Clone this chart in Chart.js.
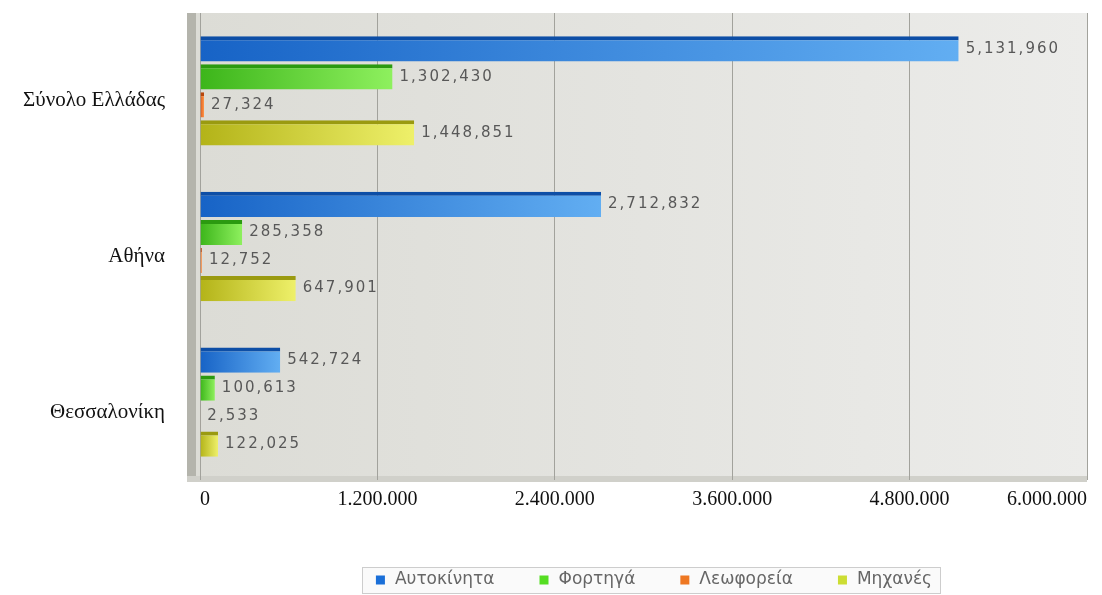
<!DOCTYPE html>
<html>
<head>
<meta charset="utf-8">
<script src="https://cdn.jsdelivr.net/npm/chart.js@4"></script>
<style>
  html, body { margin: 0; background: #fff; }
  #wrap { width: 1102px; height: 595px; }
</style>
</head>
<body>
<div id="wrap"><canvas id="chart"></canvas></div>
<script>
// Δεδομένα οχημάτων ανά περιοχή
const regions = ['Σύνολο Ελλάδας', 'Αθήνα', 'Θεσσαλονίκη'];
const seriesNames = ['Αυτοκίνητα', 'Φορτηγά', 'Λεωφορεία', 'Μηχανές'];
const cars = [5131960, 2712832, 542724];
const trucks = [1302430, 285358, 100613];
const buses = [27324, 12752, 2533];
const bikes = [1448851, 647901, 122025];
const xTicks = [0, 1200000, 2400000, 3600000, 4800000, 6000000];

// χρώματα: σκούρο, ανοιχτό, πάνω ακμή, υπόμνημα
const palette = [
  ['#1763c6', '#62aef2', '#0d4ea6', '#1a6fd8'],
  ['#3cb51a', '#8ef05e', '#2b9a10', '#55dd22'],
  ['#d9581a', '#ff9648', '#b8460c', '#ee7722'],
  ['#b3b318', '#eef06a', '#9a9a10', '#ccdd33']
];

function barFill(i) {
  return function(ctx) {
    const c = ctx.chart;
    if (!c.chartArea || !c.scales.x || ctx.raw == null) return palette[i][0];
    const x0 = c.scales.x.getPixelForValue(0);
    const x1 = Math.max(c.scales.x.getPixelForValue(ctx.raw), x0 + 1);
    const g = c.ctx.createLinearGradient(x0, 0, x1, 0);
    g.addColorStop(0, palette[i][0]);
    g.addColorStop(1, palette[i][1]);
    return g;
  };
}

const seriesData = [cars, trucks, buses, bikes];
const datasets = seriesNames.map((name, i) => ({
  label: name,
  data: seriesData[i],
  backgroundColor: barFill(i),
  borderColor: palette[i][2],
  borderWidth: { top: 4, right: 0, bottom: 0, left: 0 },
  borderSkipped: false,
  barPercentage: 0.9,
  categoryPercentage: 0.72
}));

// φόντο περιοχής σχεδίασης και αριστερός "τοίχος"
const plotBackground = {
  id: 'plotBackground',
  beforeDraw(chart) {
    const { ctx, chartArea: a } = chart;
    ctx.save();
    const g = ctx.createLinearGradient(a.left, 0, a.right, 0);
    g.addColorStop(0, '#dcdcd6');
    g.addColorStop(1, '#ececea');
    ctx.fillStyle = g;
    ctx.fillRect(a.left - 4, a.top, a.right - a.left + 4, a.bottom - a.top);
    ctx.fillStyle = '#b4b4ac';
    ctx.fillRect(a.left - 13, a.top, 9, a.bottom - a.top);
    ctx.fillStyle = '#d0d0ca';
    ctx.fillRect(a.left - 13, a.bottom - 4, a.right - a.left + 13, 6);
    ctx.restore();
  }
};

// ετικέτες τιμών δίπλα στις μπάρες
const valueLabels = {
  id: 'valueLabels',
  afterDatasetsDraw(chart) {
    const ctx = chart.ctx;
    ctx.save();
    ctx.font = '15px "DejaVu Sans"';
    ctx.letterSpacing = '2px';
    ctx.fillStyle = '#585858';
    ctx.textBaseline = 'middle';
    chart.data.datasets.forEach((ds, i) => {
      chart.getDatasetMeta(i).data.forEach((bar, j) => {
        ctx.fillText(ds.data[j].toLocaleString('en-US'), bar.x + 7, bar.y);
      });
    });
    ctx.restore();
  }
};

// υπόμνημα σε πλαίσιο κάτω από το γράφημα
const boxLegend = {
  id: 'boxLegend',
  afterDraw(chart) {
    const ctx = chart.ctx;
    const centerX = 654, centerY = 580, gap = 45;
    ctx.save();
    ctx.font = '17px "DejaVu Sans"';
    ctx.textBaseline = 'middle';
    const widths = chart.data.datasets.map(ds => 19 + ctx.measureText(ds.label).width);
    const total = widths.reduce((s, w) => s + w, 0) + gap * (widths.length - 1);
    let x = centerX - total / 2;
    ctx.fillStyle = '#fafafa';
    ctx.strokeStyle = '#cdcdcd';
    ctx.lineWidth = 1;
    ctx.fillRect(x - 14, centerY - 13, total + 22, 26);
    ctx.strokeRect(Math.round(x - 14) + 0.5, centerY - 12.5, Math.round(total + 22), 26);
    chart.data.datasets.forEach((ds, i) => {
      ctx.fillStyle = palette[i][3];
      ctx.fillRect(x, centerY - 4.5, 9, 9);
      ctx.fillStyle = '#666';
      ctx.fillText(ds.label, x + 19, centerY);
      x += widths[i] + gap;
    });
    ctx.restore();
  }
};

new Chart(document.getElementById('chart'), {
  type: 'bar',
  data: { labels: regions, datasets: datasets },
  options: {
    indexAxis: 'y',
    responsive: true,
    maintainAspectRatio: false,
    animation: false,
    layout: { padding: { top: 13, right: 15, left: 0, bottom: 74 } },
    scales: {
      x: {
        min: 0,
        max: 6000000,
        afterBuildTicks: s => { s.ticks = xTicks.map(v => ({ value: v })); },
        afterFit: s => { s.height = 41; },
        grid: { color: '#a2a29c', drawTicks: false },
        border: { display: false },
        ticks: {
          align: 'inner',
          padding: 8,
          color: '#111',
          font: { family: '"Liberation Serif"', size: 20 },
          callback: v => v.toLocaleString('de-DE')
        }
      },
      y: {
        afterFit: s => { s.width = 200; s.paddingTop = 0; s.paddingBottom = 0; },
        grid: { display: false, drawTicks: false },
        border: { display: false },
        ticks: {
          padding: 35,
          labelOffset: 10,
          color: '#111',
          font: { family: '"Liberation Serif"', size: 21 }
        }
      }
    },
    plugins: {
      legend: { display: false },
      tooltip: { enabled: false }
    }
  },
  plugins: [plotBackground, valueLabels, boxLegend]
});
</script>
</body>
</html>
